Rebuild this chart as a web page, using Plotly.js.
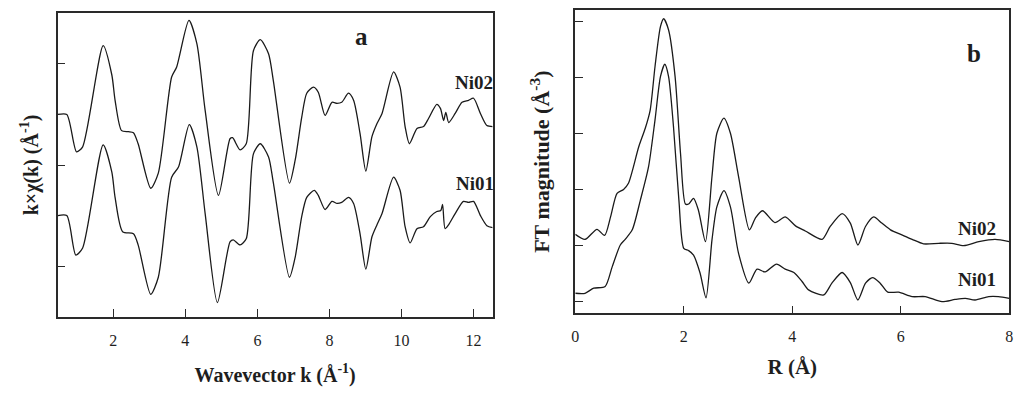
<!DOCTYPE html>
<html>
<head>
<meta charset="utf-8">
<script src="https://cdn.plot.ly/plotly-3.0.1.min.js"></script>
<style>html,body{margin:0;padding:0;background:#fff;}#chart{width:1024px;height:394px;}</style>
</head>
<body>
<div id="chart"></div>
<script>
// Panel a: k-space EXAFS (offset curves)
const kNi02 = [0.46,0.71,0.98,1.15,1.72,1.96,2.05,2.23,2.42,2.56,2.69,3.04,3.25,3.62,3.76,4.10,4.32,4.55,4.92,5.24,5.31,5.52,5.69,5.89,6.08,6.31,6.44,6.89,7.05,7.23,7.37,7.56,7.69,7.88,8.07,8.21,8.34,8.53,8.67,8.85,9.01,9.18,9.32,9.46,9.78,9.96,10.10,10.22,10.43,10.61,10.75,10.98,11.08,11.17,11.23,11.31,11.49,11.68,11.86,12.00,12.19,12.37,12.53];
const chiNi02 = [2.00,2.00,1.63,1.68,2.68,2.39,2.14,1.84,1.83,1.82,1.71,1.27,1.42,2.37,2.47,2.93,2.70,2.04,1.20,1.76,1.77,1.65,1.71,2.63,2.74,2.60,2.34,1.32,1.55,1.97,2.21,2.27,2.22,1.99,2.12,2.11,2.12,2.21,2.14,1.81,1.44,1.78,1.91,2.01,2.42,2.27,1.88,1.71,1.86,1.88,1.96,2.10,2.06,1.94,2.02,1.92,2.01,2.12,2.14,2.16,2.01,1.89,1.88];
const kNi01 = [0.46,0.71,0.96,1.15,1.72,1.96,2.05,2.26,2.56,2.69,3.04,3.25,3.62,3.81,4.11,4.32,4.55,4.89,5.24,5.33,5.52,5.69,5.89,6.08,6.31,6.44,6.89,7.05,7.23,7.37,7.58,7.69,7.88,8.07,8.21,8.34,8.53,8.67,8.85,9.01,9.18,9.32,9.46,9.78,9.96,10.10,10.24,10.43,10.61,10.80,10.98,11.09,11.14,11.21,11.31,11.49,11.72,11.86,12.00,12.19,12.37,12.53];
const chiNi01 = [1.00,1.00,0.61,0.68,1.70,1.43,1.18,0.84,0.82,0.71,0.22,0.39,1.38,1.48,1.90,1.68,1.02,0.14,0.74,0.76,0.71,0.77,1.61,1.71,1.58,1.33,0.39,0.59,0.99,1.18,1.25,1.20,1.06,1.14,1.12,1.13,1.18,1.12,0.82,0.47,0.79,0.91,1.02,1.38,1.25,0.89,0.73,0.87,0.89,0.99,1.04,1.05,1.11,0.87,0.91,1.02,1.14,1.13,1.14,1.00,0.90,0.88];

// Panel b: Fourier transform magnitude (offset curves)
const rNi02 = [0.00,0.18,0.40,0.54,0.65,0.77,0.89,0.98,1.17,1.29,1.38,1.47,1.57,1.63,1.72,1.84,1.94,2.03,2.09,2.18,2.27,2.40,2.52,2.61,2.74,2.86,3.01,3.21,3.32,3.45,3.68,3.87,4.06,4.24,4.55,4.70,4.92,5.07,5.21,5.35,5.50,5.65,5.81,6.02,6.21,6.42,6.70,6.94,7.16,7.44,7.74,8.00];
const ftNi02 = [1.20,1.11,1.29,1.18,1.51,1.93,2.00,2.11,2.76,3.09,3.41,4.19,4.90,5.04,4.84,4.01,2.64,1.74,1.74,1.84,1.63,1.07,2.23,3.00,3.27,3.00,2.23,1.28,1.49,1.62,1.41,1.51,1.35,1.26,1.11,1.34,1.57,1.40,1.01,1.34,1.51,1.40,1.28,1.19,1.11,1.03,1.04,1.04,1.00,1.07,1.11,1.07];
const rNi01 = [0.00,0.18,0.34,0.55,0.68,0.83,0.92,1.05,1.20,1.35,1.47,1.57,1.65,1.72,1.81,1.91,2.00,2.09,2.18,2.30,2.41,2.52,2.61,2.74,2.86,3.01,3.20,3.35,3.50,3.71,3.87,4.03,4.18,4.30,4.58,4.73,4.92,5.07,5.21,5.35,5.48,5.62,5.76,5.96,6.21,6.45,6.76,7.00,7.19,7.37,7.62,7.80,8.00];
const ftNi01 = [0.15,0.15,0.24,0.27,0.62,1.01,1.11,1.28,1.81,2.40,3.24,4.01,4.23,4.01,3.12,1.81,0.95,0.91,0.83,0.51,0.07,1.10,1.69,1.98,1.69,0.86,0.33,0.58,0.53,0.67,0.58,0.52,0.36,0.21,0.12,0.33,0.52,0.34,0.03,0.33,0.43,0.33,0.17,0.17,0.09,0.09,0.00,0.04,0.06,0.03,0.09,0.09,0.06];

const kTicks = [2,4,6,8,10,12];
const kTickLabels = ['2','4','6','8','10','12'];
const rTicks = [0,2,4,6,8];
const rTickLabels = ['0','2','4','6','8'];
const chiTicks = [0.5,1.5,2.5];
const ftTicks = [0,1,2,3,4,5];

const serif = 'Liberation Serif, Times New Roman, serif';
const ink = '#1e1e1e';
const lineStyle = {color: '#1a1a1a', width: 1.3, shape: 'spline', smoothing: 0.7};

const traces = [
  {x: kNi02, y: chiNi02, xaxis: 'x', yaxis: 'y', mode: 'lines', line: lineStyle, name: 'Ni02'},
  {x: kNi01, y: chiNi01, xaxis: 'x', yaxis: 'y', mode: 'lines', line: lineStyle, name: 'Ni01'},
  {x: rNi02, y: ftNi02, xaxis: 'x2', yaxis: 'y2', mode: 'lines', line: lineStyle, name: 'Ni02'},
  {x: rNi01, y: ftNi01, xaxis: 'x2', yaxis: 'y2', mode: 'lines', line: lineStyle, name: 'Ni01'}
];

const axBase = {
  showline: true, mirror: true, linecolor: '#2a2a2a', linewidth: 1.5,
  showgrid: false, zeroline: false, ticks: 'inside', ticklen: 8, tickwidth: 1.2, tickcolor: '#2a2a2a',
  tickfont: {family: serif, size: 16, color: ink}
};

function bold(size) { return {family: serif, size: size, color: ink, weight: 'bold'}; }

const layout = {
  width: 1024, height: 394,
  margin: {l: 0, r: 0, t: 0, b: 0},
  paper_bgcolor: '#fff', plot_bgcolor: '#fff',
  showlegend: false,
  font: {family: serif, color: ink},
  xaxis: Object.assign({}, axBase, {
    domain: [0.0563, 0.4811], range: [0.456, 12.53], anchor: 'y',
    tickmode: 'array', tickvals: kTicks, ticktext: kTickLabels, ticklabelstandoff: 8,
    title: {text: 'Wavevector k (Å<sup>-1</sup>)', font: bold(20), standoff: 20}
  }),
  yaxis: Object.assign({}, axBase, {
    domain: [0.1962, 0.9662], range: [0, 3], anchor: 'x',
    tickmode: 'array', tickvals: chiTicks, showticklabels: false,
    title: {text: 'k×χ(k) (Å<sup>-1</sup>)', font: bold(20), standoff: 12}
  }),
  xaxis2: Object.assign({}, axBase, {
    domain: [0.5618, 0.9856], range: [0, 8], anchor: 'y2',
    tickmode: 'array', tickvals: rTicks, ticktext: rTickLabels, ticklabelstandoff: 8,
    title: {text: 'R (Å)', font: bold(21), standoff: 15}
  }),
  yaxis2: Object.assign({}, axBase, {
    domain: [0.2048, 0.9746], range: [-0.207, 5.196], anchor: 'x2',
    tickmode: 'array', tickvals: ftTicks, showticklabels: false,
    title: {text: 'FT magnitude (Å<sup>-3</sup>)', font: bold(22), standoff: 18}
  }),
  annotations: [
    {xref: 'x', yref: 'y', x: 8.9, y: 2.77, text: 'a', showarrow: false, font: bold(25)},
    {xref: 'x', yref: 'y', x: 12.0, y: 2.32, text: 'Ni02', showarrow: false, font: bold(19)},
    {xref: 'x', yref: 'y', x: 12.05, y: 1.32, text: 'Ni01', showarrow: false, font: bold(19)},
    {xref: 'x2', yref: 'y2', x: 7.35, y: 4.42, text: 'b', showarrow: false, font: bold(25)},
    {xref: 'x2', yref: 'y2', x: 7.41, y: 1.31, text: 'Ni02', showarrow: false, font: bold(19)},
    {xref: 'x2', yref: 'y2', x: 7.41, y: 0.39, text: 'Ni01', showarrow: false, font: bold(19)}
  ]
};

Plotly.newPlot('chart', traces, layout, {displayModeBar: false});
</script>
</body>
</html>
